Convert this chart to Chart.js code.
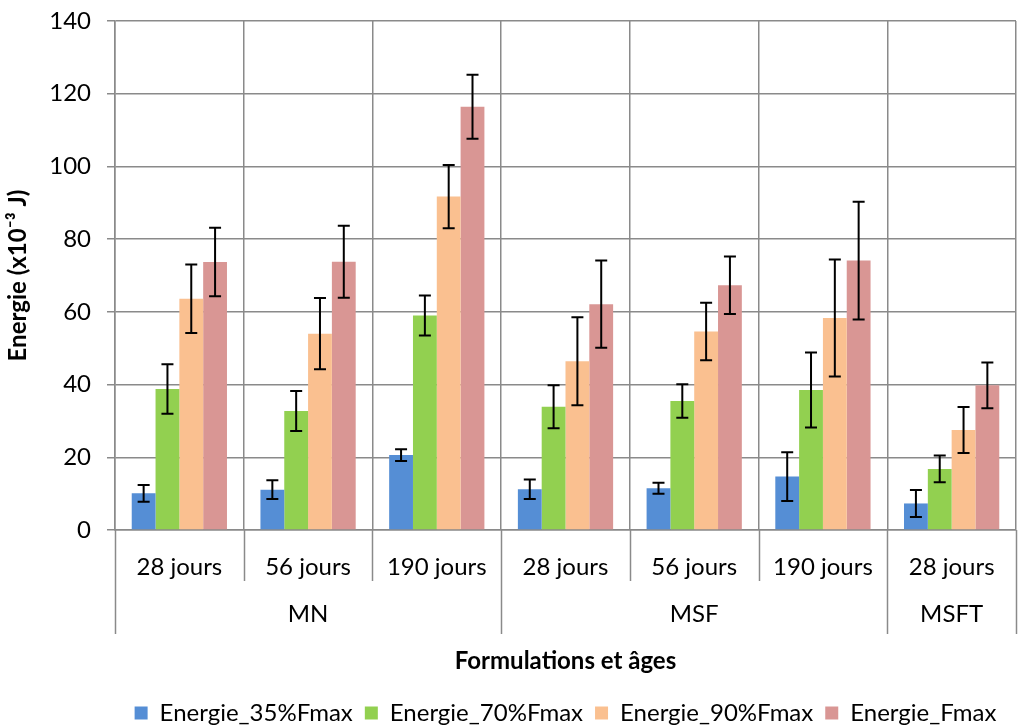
<!DOCTYPE html>
<html>
<head>
<meta charset="utf-8">
<script src="https://cdn.jsdelivr.net/npm/chart.js@4.4.1/dist/chart.umd.min.js"></script>
<style>
  html, body { margin: 0; padding: 0; background: #fff; }
  #wrap { width: 1022px; height: 727px; }
</style>
</head>
<body>
<div id="wrap"><canvas id="energyChart" width="1022" height="727"></canvas></div>
<script>
// ===================== Data =====================
const categories = ["28 jours", "56 jours", "190 jours", "28 jours", "56 jours", "190 jours", "28 jours"];
const groups = ["MN", "MSF", "MSFT"];
const groupSizes = [3, 3, 1];

const energie35 = [10.1, 11.1, 20.6, 11.2, 11.5, 14.7, 7.3];
const energie35Err = [2.3, 2.6, 1.6, 2.7, 1.5, 6.7, 3.7];
const energie70 = [38.8, 32.7, 59.0, 33.9, 35.5, 38.5, 16.8];
const energie70Err = [6.8, 5.5, 5.5, 5.9, 4.6, 10.3, 3.7];
const energie90 = [63.6, 54.0, 91.7, 46.4, 54.6, 58.3, 27.5];
const energie90Err = [9.4, 9.8, 8.7, 12.1, 7.9, 16.1, 6.3];
const energieFmax = [73.7, 73.8, 116.4, 62.1, 67.3, 74.1, 39.8];
const energieFmaxErr = [9.4, 9.9, 8.8, 12.0, 7.9, 16.2, 6.3];

const yTicks = [0, 20, 40, 60, 80, 100, 120, 140];

// ===================== Styles =====================
const FONT = "Lato, 'Open Sans', sans-serif";
const GRID = "#8a8a8a";

// ===================== Error bars plugin =====================
const errorBars = {
  id: "errorBars",
  afterDatasetsDraw(chart) {
    const { ctx } = chart;
    const y = chart.scales.y;
    ctx.save();
    ctx.strokeStyle = "#000";
    ctx.lineWidth = 2;
    chart.data.datasets.forEach((ds, i) => {
      const meta = chart.getDatasetMeta(i);
      meta.data.forEach((bar, j) => {
        const v = ds.data[j];
        const e = ds.errors[j];
        const yTop = y.getPixelForValue(v + e);
        const yBot = y.getPixelForValue(v - e);
        const cap = 6;
        ctx.beginPath();
        ctx.moveTo(bar.x, yTop);
        ctx.lineTo(bar.x, yBot);
        ctx.moveTo(bar.x - cap, yTop);
        ctx.lineTo(bar.x + cap, yTop);
        ctx.moveTo(bar.x - cap, yBot);
        ctx.lineTo(bar.x + cap, yBot);
        ctx.stroke();
      });
    });
    ctx.restore();
  }
};

// ===================== Multi-level x axis plugin =====================
const groupAxis = {
  id: "groupAxis",
  afterDraw(chart) {
    const { ctx, chartArea } = chart;
    const x = chart.scales.x;
    const n = categories.length;
    const half = (x.getPixelForValue(1) - x.getPixelForValue(0)) / 2;
    const boundary = (i) => x.getPixelForValue(i) - half;

    // which boundaries start a new group
    const groupEdges = [0];
    groupSizes.forEach((s) => groupEdges.push(groupEdges[groupEdges.length - 1] + s));

    ctx.save();
    ctx.strokeStyle = GRID;
    ctx.lineWidth = 1.5;
    for (let i = 0; i <= n; i++) {
      const bx = Math.round(boundary(i)) + 0.5;
      const long = groupEdges.includes(i);
      ctx.beginPath();
      ctx.moveTo(bx, chartArea.bottom);
      ctx.lineTo(bx, chartArea.bottom + (long ? 104 : 51));
      ctx.stroke();
    }

    // group labels
    ctx.fillStyle = "#000";
    ctx.font = "24px " + FONT;
    ctx.textAlign = "center";
    ctx.textBaseline = "middle";
    groups.forEach((g, k) => {
      const cx = (boundary(groupEdges[k]) + boundary(groupEdges[k + 1])) / 2;
      ctx.fillText(g, cx, chartArea.bottom + 84);
    });
    ctx.restore();
  }
};

// ===================== Chart =====================
const ctx = document.getElementById("energyChart").getContext("2d");

new Chart(ctx, {
  type: "bar",
  data: {
    labels: categories,
    datasets: [
      { label: "Energie_35%Fmax", data: energie35, errors: energie35Err, backgroundColor: "#558ed5" },
      { label: "Energie_70%Fmax", data: energie70, errors: energie70Err, backgroundColor: "#92d050" },
      { label: "Energie_90%Fmax", data: energie90, errors: energie90Err, backgroundColor: "#fac090" },
      { label: "Energie_Fmax", data: energieFmax, errors: energieFmaxErr, backgroundColor: "#d99694" },
    ],
  },
  options: {
    responsive: false,
    animation: false,
    layout: { padding: { top: 21, right: 6, left: 0, bottom: -8 } },
    datasets: {
      bar: { categoryPercentage: 0.74, barPercentage: 1.0 },
    },
    plugins: {
      tooltip: { enabled: false },
      legend: {
        position: "bottom",
        fullSize: false,
        labels: {
          color: "#000",
          font: { family: FONT, size: 24 },
          boxWidth: 13,
          boxHeight: 13,
          padding: 12,
        },
      },
    },
    scales: {
      x: {
        grid: { color: GRID, lineWidth: 1.5, offset: true, drawTicks: false },
        border: { color: GRID, width: 1.5 },
        ticks: { color: "#000", font: { family: FONT, size: 24 }, padding: 23, maxRotation: 0, autoSkip: false },
        title: {
          display: true,
          text: "Formulations et âges",
          color: "#000",
          font: { family: FONT, size: 24, weight: "bold" },
          padding: { top: 0, bottom: 13 },
        },
        afterFit(scale) { scale.height = 159; },
      },
      y: {
        min: 0,
        max: 140,
        afterBuildTicks(scale) { scale.ticks = yTicks.map((v) => ({ value: v })); },
        grid: { color: GRID, lineWidth: 1.5, tickLength: 8 },
        border: { color: GRID, width: 1.5 },
        ticks: { color: "#000", font: { family: FONT, size: 24 }, padding: 16 },
        title: {
          display: true,
          text: "Energie (x10⁻³ J)",
          color: "#000",
          font: { family: FONT, size: 24, weight: "bold" },
          padding: { top: 4, bottom: 0 },
        },
        afterFit(scale) {
          scale.width = 115;
          scale.paddingTop = 0;
          scale.paddingBottom = 0;
        },
      },
    },
  },
  plugins: [errorBars, groupAxis],
});
</script>
</body>
</html>
